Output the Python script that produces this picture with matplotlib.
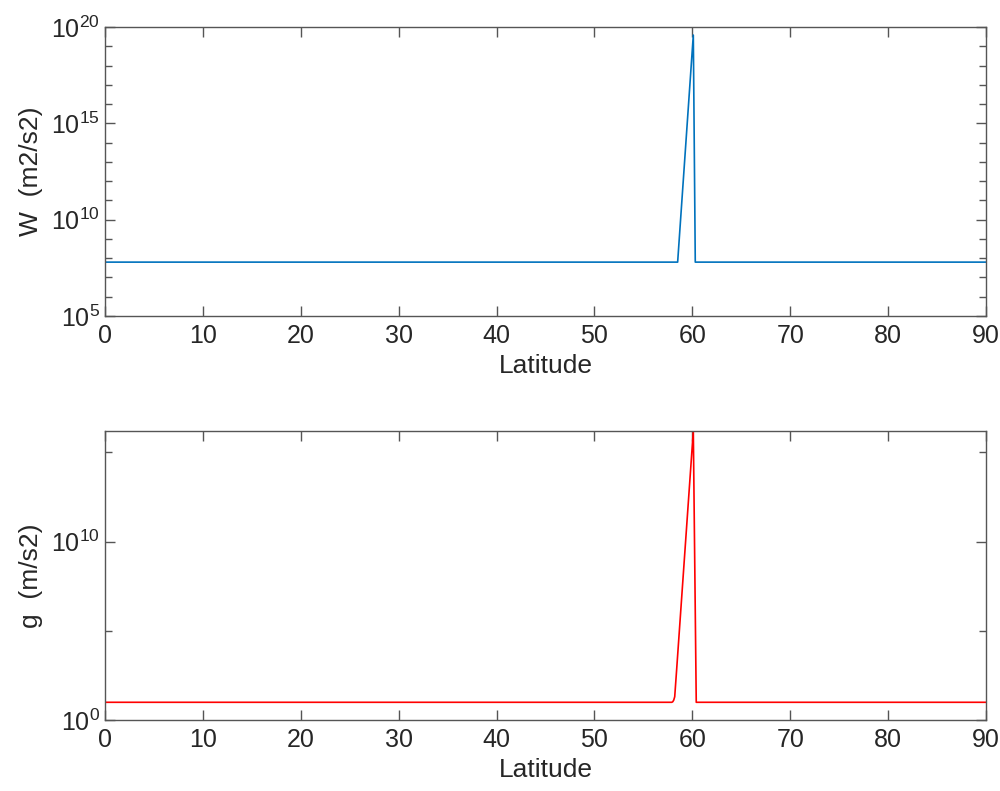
import numpy as np
import matplotlib
matplotlib.use("Agg")
import matplotlib.pyplot as plt
from matplotlib.ticker import FixedLocator, FixedFormatter

# data
lat_w = [0, 58.5, 60.1, 60.3, 90]
w_vals = [6.26e7, 6.26e7, 3.8e19, 6.26e7, 6.26e7]

lat_g = [0, 57.9, 58.0, 58.1, 58.2, 58.4, 60.1, 60.4, 90]
g_vals = [9.8, 9.8, 10.5, 13.0, 20.0, 700.0, 1.6e16, 9.8, 9.8]

x_ticks = [0, 10, 20, 30, 40, 50, 60, 70, 80, 90]

plt.rcParams["font.family"] = ["Liberation Sans", "DejaVu Sans"]
plt.rcParams["mathtext.fontset"] = "custom"
plt.rcParams["mathtext.rm"] = "Liberation Sans"
plt.rcParams["mathtext.it"] = "Liberation Sans"
plt.rcParams["mathtext.default"] = "regular"

txt = "#262626"
axc = "#555555"

fig = plt.figure(figsize=(10, 7.91), dpi=100)
ax1 = fig.add_axes([0.105, 0.6005, 0.881, 0.3654])
ax2 = fig.add_axes([0.105, 0.0898, 0.881, 0.3654])


def style(ax, major, minor, ylim):
    ax.set_yscale("log")
    ax.set_xlim(0, 90)
    ax.set_ylim(*ylim)
    ax.set_xticks(x_ticks)
    ax.yaxis.set_major_locator(FixedLocator([10.0 ** e for e in major]))
    ax.yaxis.set_major_formatter(FixedFormatter(["$10^{%d}$" % e for e in major]))
    ax.yaxis.set_minor_locator(FixedLocator([10.0 ** e for e in minor]))
    ax.yaxis.set_minor_formatter(FixedFormatter([""] * len(minor)))
    ax.tick_params(which="both", direction="in", top=True, right=True,
                   color=axc, labelcolor=txt, labelsize=18, width=1.0)
    ax.tick_params(which="major", length=7)
    ax.tick_params(which="minor", length=5)
    ax.tick_params(axis="x", pad=6)
    for s in ax.spines.values():
        s.set_color(axc)
        s.set_linewidth(1.0)
    ax.set_xlabel("Latitude", fontsize=19, color=txt)


ax1.plot(lat_w, w_vals, color="#0072BD", lw=1.2)
style(ax1, [5, 10, 15, 20], [6, 7, 8, 9, 11, 12, 13, 14, 16, 17, 18, 19], (1e5, 1e20))
ax1.set_ylabel("W  (m2/s2)", fontsize=19, color=txt, labelpad=6)

ax2.plot(lat_g, g_vals, color="#FF0000", lw=1.2)
style(ax2, [0, 10], [5, 15], (1.0, 1.6e16))
ax2.set_ylabel("g  (m/s2)", fontsize=19, color=txt, labelpad=6)

fig.savefig("out.png", dpi=100)
